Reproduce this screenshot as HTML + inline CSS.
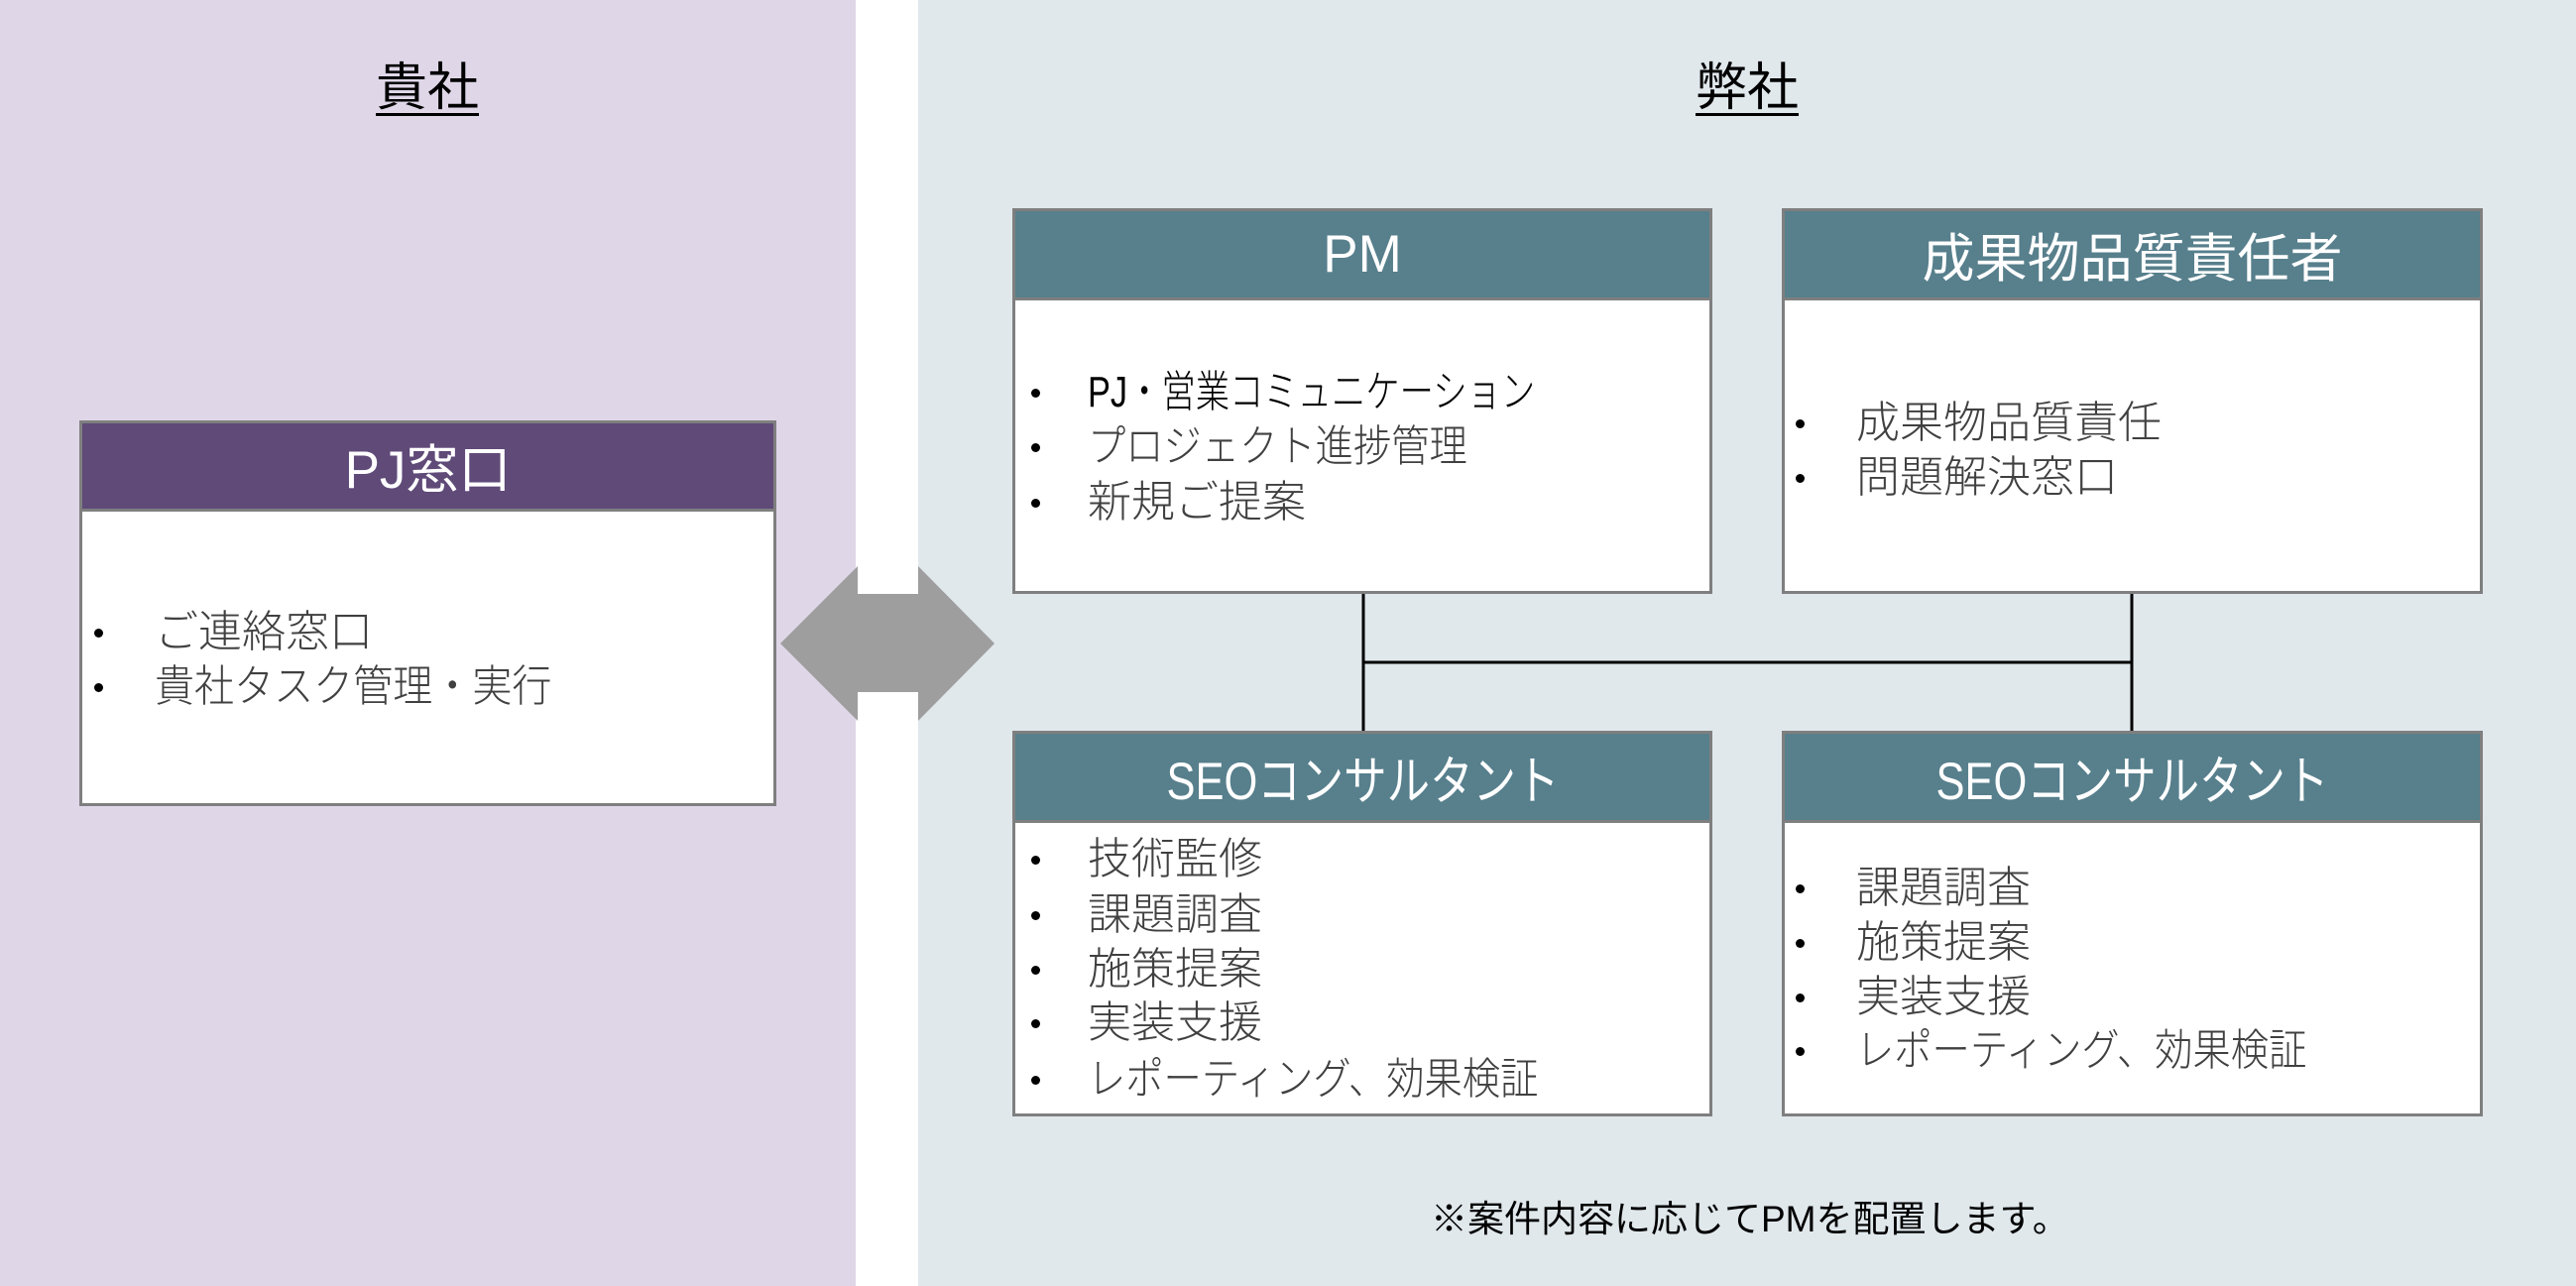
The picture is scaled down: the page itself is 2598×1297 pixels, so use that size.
<!DOCTYPE html>
<html><head><meta charset="utf-8">
<style>
*{margin:0;padding:0;box-sizing:border-box}
body{width:2598px;height:1297px;position:relative;overflow:hidden;background:#fff;font-family:"Liberation Sans","Noto Sans CJK JP",sans-serif}
.abs{position:absolute}
.box{position:absolute;background:#fff;border:3px solid #7f7f7f}
.hdr{position:absolute;left:0;right:0;top:0;color:#fff;display:flex;align-items:center;justify-content:center;font-size:53px;border-bottom:3px solid #7f7f7f}
.t{position:absolute;font-size:44px;line-height:56px;color:#404040;white-space:nowrap;font-weight:300;transform-origin:0 50%}
.b{position:absolute;width:9px;height:9px;border-radius:50%;background:#000}
.title{position:absolute;font-size:52px;text-decoration:underline;text-underline-offset:8px;text-decoration-thickness:3px;color:#000;transform:translateX(-50%);white-space:nowrap}
.sx{display:inline-block;transform:scaleX(0.82)}
</style></head><body>
<div class="abs" style="left:0;top:0;width:863px;height:1297px;background:#dfd7e8"></div>
<div class="abs" style="left:926px;top:0;width:1672px;height:1297px;background:#e0e8ec"></div>
<div class="title" style="left:431px;top:46px">貴社</div>
<div class="title" style="left:1762px;top:46px">弊社</div>

<svg class="abs" style="left:0;top:0" width="2598" height="1297">
<polygon points="787,649 865,571 865,599 926,599 926,571 1003,649 926,727 926,698 865,698 865,727" fill="#9e9e9e"/>
<line x1="1375" y1="598" x2="1375" y2="737" stroke="#000" stroke-width="3"/>
<line x1="2150" y1="598" x2="2150" y2="737" stroke="#000" stroke-width="3"/>
<line x1="1375" y1="668" x2="2150" y2="668" stroke="#000" stroke-width="3"/>
</svg>

<!-- PJ窓口 -->
<div class="box" style="left:80px;top:424px;width:703px;height:389px">
<div class="hdr" style="height:92px;background:#5f4a78;top:-3px;left:-3px;right:-3px;border:3px solid #7f7f7f">PJ窓口</div>
</div>
<div class="b" style="left:95px;top:634px"></div><div class="t" style="left:156px;top:610px">ご連絡窓口</div>
<div class="b" style="left:95px;top:689px"></div><div class="t" style="left:156px;top:665px;transform:scaleX(0.91)">貴社タスク管理・実行</div>

<!-- PM -->
<div class="box" style="left:1021px;top:210px;width:706px;height:389px">
<div class="hdr" style="height:93px;background:#577f8c;top:-3px;left:-3px;right:-3px;border:3px solid #7f7f7f">PM</div>
</div>
<div class="b" style="left:1040px;top:392px"></div><div class="t" style="left:1097px;top:368px;color:#000;transform:scaleX(0.78)">PJ・営業コミュニケーション</div>
<div class="b" style="left:1040px;top:447px"></div><div class="t" style="left:1097px;top:423px;transform:scaleX(0.87)">プロジェクト進捗管理</div>
<div class="b" style="left:1040px;top:503px"></div><div class="t" style="left:1097px;top:479px">新規ご提案</div>

<!-- 成果物品質責任者 -->
<div class="box" style="left:1797px;top:210px;width:707px;height:389px">
<div class="hdr" style="height:93px;background:#577f8c;top:-3px;left:-3px;right:-3px;border:3px solid #7f7f7f">成果物品質責任者</div>
</div>
<div class="b" style="left:1811px;top:423px"></div><div class="t" style="left:1872px;top:399px">成果物品質責任</div>
<div class="b" style="left:1811px;top:478px"></div><div class="t" style="left:1872px;top:454px">問題解決窓口</div>

<!-- SEO left -->
<div class="box" style="left:1021px;top:737px;width:706px;height:389px">
<div class="hdr" style="height:93px;background:#577f8c;top:-3px;left:-3px;right:-3px;border:3px solid #7f7f7f"><span class="sx">SEOコンサルタント</span></div>
</div>
<div class="b" style="left:1040px;top:863px"></div><div class="t" style="left:1097px;top:839px">技術監修</div>
<div class="b" style="left:1040px;top:919px"></div><div class="t" style="left:1097px;top:895px">課題調査</div>
<div class="b" style="left:1040px;top:974px"></div><div class="t" style="left:1097px;top:950px">施策提案</div>
<div class="b" style="left:1040px;top:1028px"></div><div class="t" style="left:1097px;top:1004px">実装支援</div>
<div class="b" style="left:1040px;top:1085px"></div><div class="t" style="left:1097px;top:1061px;transform:scaleX(0.87)">レポーティング、効果検証</div>

<!-- SEO right -->
<div class="box" style="left:1797px;top:737px;width:707px;height:389px">
<div class="hdr" style="height:93px;background:#577f8c;top:-3px;left:-3px;right:-3px;border:3px solid #7f7f7f"><span class="sx">SEOコンサルタント</span></div>
</div>
<div class="b" style="left:1811px;top:892px"></div><div class="t" style="left:1872px;top:868px">課題調査</div>
<div class="b" style="left:1811px;top:947px"></div><div class="t" style="left:1872px;top:923px">施策提案</div>
<div class="b" style="left:1811px;top:1002px"></div><div class="t" style="left:1872px;top:978px">実装支援</div>
<div class="b" style="left:1811px;top:1056px"></div><div class="t" style="left:1872px;top:1032px;transform:scaleX(0.87)">レポーティング、効果検証</div>

<div class="abs" style="left:1443px;top:1205px;font-size:37px;line-height:50px;color:#000;white-space:nowrap">※案件内容に応じてPMを配置します。</div>
</body></html>
